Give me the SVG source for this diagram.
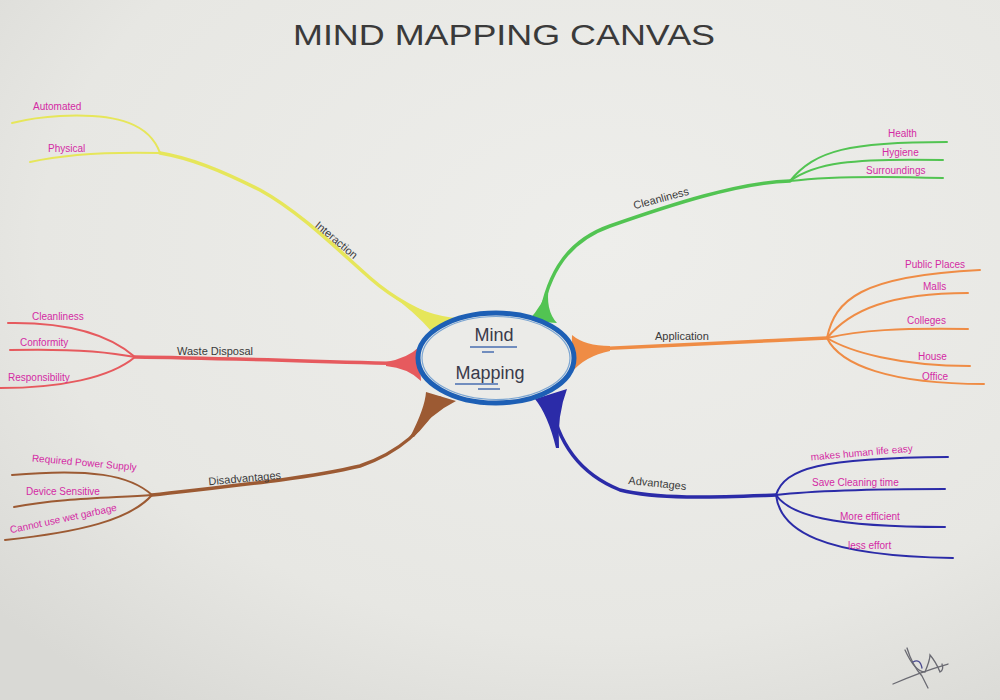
<svg xmlns="http://www.w3.org/2000/svg" width="1000" height="700" viewBox="0 0 1000 700">
<defs>
<radialGradient id="paper" cx="0.6" cy="0.35" r="0.8">
<stop offset="0" stop-color="#eeeeeb"/>
<stop offset="0.7" stop-color="#e7e7e3"/>
<stop offset="1" stop-color="#d9d9d5"/>
</radialGradient>
</defs>
<style>
.title{font-family:"Liberation Sans",Arial,sans-serif;font-size:30px;fill:#3a3a3a}
.lbl{font-family:"Liberation Sans",Arial,sans-serif;font-size:11px;fill:#3a3a3a}
.leaf{font-family:"Liberation Sans",Arial,sans-serif;font-size:10px;fill:#d42aa4}
.core{font-family:"Liberation Sans",Arial,sans-serif;font-size:18px;fill:#3a3a4a}
.br{fill:none;stroke-linecap:round;stroke-linejoin:round}
.y{stroke:#e6e65a}.g{stroke:#52c452}.o{stroke:#ef8c45}.b{stroke:#2b2ba8}.n{stroke:#9c5a33}.r{stroke:#e65a5e}
.main{stroke-width:3.5}.sub{stroke-width:2}
</style>
<rect width="1000" height="700" fill="url(#paper)"/>
<text class="title" x="504" y="45" text-anchor="middle" textLength="422" lengthAdjust="spacingAndGlyphs">MIND MAPPING CANVAS</text>

<g id="connectors">
<!-- Interaction (yellow) -->
<path class="br y main" d="M 450,324 C 420,312 395,300 370,278 C 338,250 300,212 260,190 C 220,170 190,158 160,153"/>
<path class="br y sub" d="M 160,153 C 150,125 120,113 60,116 C 40,117 20,121 12,123"/>
<path class="br y sub" d="M 160,153 C 120,152 70,153 30,162"/>
<path fill="#e6e65a" d="M 388,293 Q 425,316 458,318 L 432,332 Q 415,312 388,293 Z"/>
<!-- Cleanliness (green) -->
<path class="br g main" d="M 540,320 C 548,270 570,240 610,226 C 670,205 740,182 790,181"/>
<path class="br g sub" d="M 790,181 C 815,150 850,142 947,142"/>
<path class="br g sub" d="M 790,181 C 815,163 850,158 943,160"/>
<path class="br g sub" d="M 790,181 C 830,176 880,176 943,178"/>
<path fill="#52c452" d="M 549,286 Q 545,310 557,323 L 528,321 Q 543,305 549,286 Z"/>
<!-- Application (orange) -->
<path class="br o main" d="M 572,350 C 650,346 740,342 827,338"/>
<path class="br o sub" d="M 827,338 C 835,300 860,276 980,270"/>
<path class="br o sub" d="M 827,338 C 850,310 890,293 968,293"/>
<path class="br o sub" d="M 827,338 C 860,330 900,328 968,329"/>
<path class="br o sub" d="M 827,338 C 850,352 900,366 970,366"/>
<path class="br o sub" d="M 827,338 C 840,365 890,384 984,384"/>
<path fill="#ef8c45" d="M 610,346 Q 585,346 572,335 L 571,373 Q 585,356 610,351 Z"/>
<!-- Advantages (blue) -->
<path class="br b main" d="M 550,398 C 555,430 570,470 620,490 C 660,500 720,497 776,495"/>
<path class="br b sub" d="M 776,495 C 785,468 820,458 948,457"/>
<path class="br b sub" d="M 776,495 C 820,490 880,489 945,489"/>
<path class="br b sub" d="M 776,495 C 790,515 830,527 945,527"/>
<path class="br b sub" d="M 776,495 C 780,530 820,556 953,558"/>
<path fill="#2b2ba8" d="M 556,448 Q 548,415 535,399 L 567,389 Q 557,415 559,448 Z"/>
<!-- Disadvantages (brown) -->
<path class="br n main" d="M 440,398 C 425,430 400,452 360,466 C 300,480 220,487 152,495"/>
<path class="br n sub" d="M 152,495 C 130,475 90,468 12,475"/>
<path class="br n sub" d="M 152,495 C 110,498 60,498 14,507"/>
<path class="br n sub" d="M 152,495 C 130,520 80,532 5,540"/>
<path fill="#9c5a33" d="M 410,437 Q 425,408 426,392 L 456,401 Q 430,414 414,437 Z"/>
<!-- Waste Disposal (red) -->
<path class="br r main" d="M 418,364 C 330,362 220,358 135,357"/>
<path class="br r sub" d="M 135,357 C 110,335 70,322 8,323"/>
<path class="br r sub" d="M 135,357 C 100,350 50,349 10,350"/>
<path class="br r sub" d="M 135,357 C 110,378 60,388 0,388"/>
<path fill="#e65a5e" d="M 386,362 Q 408,358 419,347 L 421,381 Q 408,368 386,366 Z"/>
</g>

<g id="center">
<ellipse cx="496" cy="358" rx="78" ry="45" fill="#ebebe8" stroke="#1d5fb5" stroke-width="5"/>
<ellipse cx="496" cy="358" rx="74" ry="41.5" fill="none" stroke="#4a86c8" stroke-width="1.2" opacity="0.7"/>
<text class="core" x="494" y="341" text-anchor="middle">Mind</text>
<path d="M 470,347 L 517,347 M 482,352 L 494,352" stroke="#4a6fb0" stroke-width="1.5" fill="none"/>
<text class="core" x="490" y="379" text-anchor="middle">Mapping</text>
<path d="M 455,384 L 498,384 M 478,389 L 500,389" stroke="#4a6fb0" stroke-width="1.5" fill="none"/>
</g>

<g id="interaction">
<text class="lbl" transform="translate(334,243) rotate(40)" text-anchor="middle">Interaction</text>
<text class="leaf" x="33" y="110">Automated</text>
<text class="leaf" x="48" y="152">Physical</text>
</g>
<g id="cleanliness">
<text class="lbl" transform="translate(662,202) rotate(-15)" text-anchor="middle">Cleanliness</text>
<text class="leaf" x="888" y="137">Health</text>
<text class="leaf" x="882" y="156">Hygiene</text>
<text class="leaf" x="866" y="174">Surroundings</text>
</g>
<g id="application">
<text class="lbl" x="655" y="340">Application</text>
<text class="leaf" x="905" y="268">Public Places</text>
<text class="leaf" x="923" y="290">Malls</text>
<text class="leaf" x="907" y="324">Colleges</text>
<text class="leaf" x="918" y="360">House</text>
<text class="leaf" x="922" y="380">Office</text>
</g>
<g id="advantages">
<text class="lbl" transform="translate(657,487) rotate(6)" text-anchor="middle">Advantages</text>
<text class="leaf" transform="translate(862,456) rotate(-5)" text-anchor="middle">makes human life easy</text>
<text class="leaf" x="812" y="486">Save Cleaning time</text>
<text class="leaf" x="840" y="520">More efficient</text>
<text class="leaf" x="848" y="549">less effort</text>
</g>
<g id="disadvantages">
<text class="lbl" transform="translate(245,482) rotate(-5)" text-anchor="middle">Disadvantages</text>
<text class="leaf" transform="translate(84,466) rotate(5)" text-anchor="middle">Required Power Supply</text>
<text class="leaf" x="26" y="495">Device Sensitive</text>
<text class="leaf" transform="translate(64,522) rotate(-12)" text-anchor="middle">Cannot use wet garbage</text>
</g>
<g id="waste-disposal">
<text class="lbl" x="177" y="355">Waste Disposal</text>
<text class="leaf" x="32" y="320">Cleanliness</text>
<text class="leaf" x="20" y="346">Conformity</text>
<text class="leaf" x="8" y="381">Responsibility</text>
</g>
<g id="signature" fill="none" stroke="#6a6a72" stroke-width="1.3" stroke-linecap="round">
<path d="M 893,684 Q 920,672 948,664"/>
<path d="M 907,648 Q 912,665 922,676 L 928,688"/>
<path d="M 905,650 Q 915,672 925,672 Q 930,660 930,655 Q 936,662 940,672 Q 944,670 942,664"/>
<path d="M 913,662 Q 920,658 922,668" stroke="#4a4a90"/>
</g>
</svg>
